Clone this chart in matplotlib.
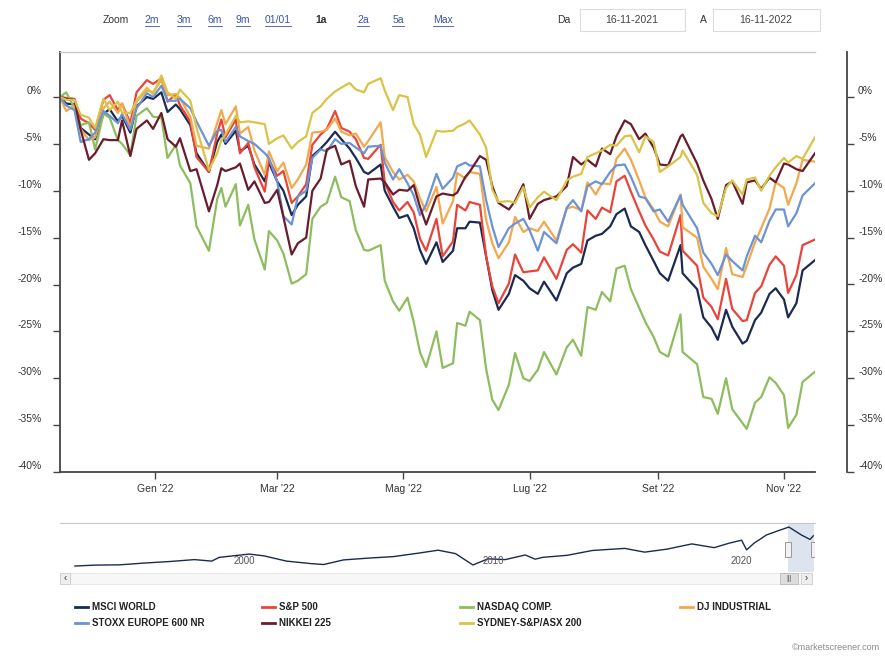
import numpy as np
import pandas as pd
import matplotlib
matplotlib.use("Agg")
import matplotlib.pyplot as plt
import matplotlib.transforms as mtransforms
from matplotlib.patches import Rectangle
from matplotlib.lines import Line2D

plt.rcParams['font.family'] = ['Liberation Sans', 'DejaVu Sans']

# ---- data (percent change since 16-11-2021) ----
dates = pd.to_datetime([
    '2021-11-16', '2021-11-19', '2021-11-23', '2021-11-26', '2021-11-30',
    '2021-12-03', '2021-12-07', '2021-12-10', '2021-12-14', '2021-12-16', '2021-12-20',
    '2021-12-23', '2021-12-28', '2021-12-31',
    '2022-01-04', '2022-01-07', '2022-01-11', '2022-01-13', '2022-01-18', '2022-01-21',
    '2022-01-27', '2022-01-31',
    '2022-02-02', '2022-02-04', '2022-02-09', '2022-02-11', '2022-02-15', '2022-02-18',
    '2022-02-23', '2022-02-25',
    '2022-03-01', '2022-03-04', '2022-03-08', '2022-03-11', '2022-03-15', '2022-03-18',
    '2022-03-22', '2022-03-25', '2022-03-29',
    '2022-04-01', '2022-04-05', '2022-04-08', '2022-04-12', '2022-04-14', '2022-04-20',
    '2022-04-22', '2022-04-26', '2022-04-29',
    '2022-05-03', '2022-05-06', '2022-05-09', '2022-05-12', '2022-05-17', '2022-05-20',
    '2022-05-25', '2022-05-27', '2022-05-31',
    '2022-06-02', '2022-06-07', '2022-06-10', '2022-06-13', '2022-06-16', '2022-06-21',
    '2022-06-24', '2022-06-28',
    '2022-07-01', '2022-07-05', '2022-07-08', '2022-07-14', '2022-07-19', '2022-07-22',
    '2022-07-26', '2022-07-29',
    '2022-08-02', '2022-08-05', '2022-08-09', '2022-08-12', '2022-08-16', '2022-08-19',
    '2022-08-23', '2022-08-26', '2022-08-30',
    '2022-09-02', '2022-09-06', '2022-09-12', '2022-09-13', '2022-09-20', '2022-09-23',
    '2022-09-27', '2022-09-30',
    '2022-10-04', '2022-10-07', '2022-10-12', '2022-10-14', '2022-10-18', '2022-10-21',
    '2022-10-25', '2022-10-28',
    '2022-11-01', '2022-11-03', '2022-11-07', '2022-11-10', '2022-11-16'])

msci_world = [0.0, -0.7, -0.8, -3.3, -4.0,
              -4.5, -1.8, -1.3, -2.6, -2.0, -3.8, -1.0, 0.0, -0.2,
              0.5, -1.6, -0.8, -1.3, -3.0, -6.0, -8.0, -4.8,
              -4.0, -5.0, -3.6, -5.8, -5.2, -7.2, -9.0, -7.0,
              -9.0, -10.0, -12.6, -11.5, -10.6, -6.3, -5.5, -4.8, -3.7,
              -4.5, -5.5, -6.5, -8.0, -8.2, -7.2, -10.0, -11.7, -12.9,
              -12.6, -14.0, -16.3, -17.8, -15.5, -17.6, -16.4, -14.0, -14.0,
              -13.3, -13.4, -17.0, -20.6, -22.7, -21.0, -19.0, -19.6,
              -20.4, -21.0, -19.7, -21.7, -18.8, -18.2, -17.8, -15.3,
              -14.8, -14.6, -13.8, -12.5, -11.9, -13.8, -14.4, -15.8, -17.5,
              -18.8, -19.6, -15.8, -18.8, -20.5, -23.5, -24.6, -25.9,
              -22.7, -24.5, -26.3, -26.0, -23.8, -23.0, -21.0, -20.4,
              -21.6, -23.5, -22.0, -18.5, -17.4]
sp500 = [0.0, -0.1, -0.2, -2.3, -2.8,
         -3.5, -0.3, 0.2, -1.4, -0.7, -2.8, 0.5, 1.8, 1.4,
         2.0, -0.5, 0.3, -0.9, -2.6, -6.4, -8.0, -3.9,
         -2.4, -4.3, -2.4, -6.0, -4.9, -7.5, -10.1, -6.7,
         -8.4, -7.9, -11.3, -10.6, -9.3, -5.1, -4.0, -3.4, -1.5,
         -3.3, -3.7, -4.5, -6.5, -6.6, -5.1, -9.1, -11.2, -12.1,
         -11.2, -12.3, -15.1, -16.4, -13.0, -17.0, -15.4, -11.5, -12.1,
         -11.2, -11.5, -17.0, -20.2, -22.0, -19.9, -16.8, -18.7,
         -18.6, -18.5, -17.1, -19.4, -16.3, -15.7, -16.6, -12.1,
         -13.0, -11.8, -12.3, -9.0, -8.4, -10.1, -12.2, -13.7, -15.2,
         -16.5, -16.9, -12.6, -16.4, -18.0, -21.4, -22.4, -23.7,
         -19.4, -22.6, -23.9, -23.8, -20.9, -20.2, -17.9, -17.0,
         -18.0, -20.9, -19.0, -15.8, -15.2]
nasdaq = [0.0, 0.5, -1.2, -3.0, -2.7,
          -5.6, -1.8, -2.2, -4.6, -5.0, -6.2, -2.0, -1.2, -2.1,
          -2.2, -6.5, -5.1, -7.3, -9.2, -13.8, -16.4, -10.9,
          -9.7, -11.7, -9.3, -13.7, -11.5, -15.2, -18.4, -14.3,
          -15.3, -16.7, -19.9, -19.6, -18.9, -13.0, -11.7, -11.3, -8.5,
          -10.7, -11.1, -14.2, -16.3, -16.4, -15.8, -19.6, -21.8, -22.8,
          -21.4, -24.0, -27.2, -28.8, -25.0, -28.9, -28.4, -24.1, -24.4,
          -22.9, -23.8, -29.0, -32.3, -33.4, -30.7, -27.3, -30.0,
          -30.3, -29.1, -27.2, -29.6, -26.7, -25.9, -27.6, -22.4,
          -22.7, -20.8, -21.8, -18.3, -18.0, -20.5, -22.5, -24.0, -25.6,
          -27.2, -27.7, -23.2, -27.2, -28.5, -32.0, -32.2, -33.8,
          -30.0, -33.3, -34.8, -35.4, -32.6, -32.0, -29.9, -30.5,
          -31.8, -35.3, -33.9, -30.4, -29.3]
dj_industrial = [0.0, -1.5, -0.9, -3.4, -4.6,
                 -4.3, -1.2, -0.5, -1.7, -0.7, -3.3, -0.5, 0.7, 0.5,
                 1.8, 0.2, 0.3, -0.1, -2.1, -5.2, -5.5, -2.8,
                 -1.4, -2.9, -1.0, -3.9, -3.2, -5.7, -8.3, -5.8,
                 -7.9, -7.0, -9.7, -8.8, -7.2, -3.8, -3.7, -3.5, -2.3,
                 -3.7, -4.1, -3.9, -5.3, -4.7, -2.7, -6.4, -8.0, -8.8,
                 -8.3, -9.0, -10.8, -12.2, -9.6, -13.5, -11.1, -8.1, -8.7,
                 -8.0, -8.2, -13.1, -15.6, -17.2, -15.5, -12.8, -14.4,
                 -14.0, -14.3, -13.3, -15.3, -11.9, -11.7, -12.1, -9.1,
                 -10.4, -9.2, -9.3, -6.6, -5.5, -6.7, -8.9, -10.7, -12.0,
                 -13.3, -13.8, -10.4, -13.9, -15.0, -18.1, -19.4, -20.5,
                 -16.1, -18.9, -19.2, -18.0, -15.5, -14.0, -11.9, -9.1,
                 -9.7, -11.5, -9.2, -6.7, -6.9]
stoxx600 = [0.0, -0.9, -1.4, -4.8, -4.5,
            -3.8, -1.5, -2.0, -2.8, -1.8, -3.5, -1.2, 0.4, 0.0,
            1.2, -0.4, -0.4, -0.2, -1.2, -2.6, -5.2, -3.6,
            -3.5, -4.8, -3.2, -4.2, -4.7, -5.0, -6.0, -6.5,
            -9.0, -12.7, -13.6, -10.6, -10.0, -6.5, -5.6, -5.8, -4.5,
            -5.0, -4.9, -5.4, -6.0, -5.3, -5.2, -7.0, -8.8, -7.7,
            -9.2, -10.5, -12.6, -11.5, -8.2, -9.8, -8.6, -7.4, -7.0,
            -7.3, -7.4, -11.0, -13.8, -16.0, -14.0, -13.5, -13.0,
            -14.2, -16.4, -14.4, -15.6, -11.8, -11.0, -12.2, -9.5,
            -9.0, -9.3, -8.0, -7.3, -7.2, -8.5, -10.6, -10.8, -12.2,
            -12.0, -13.3, -10.5, -11.5, -14.0, -16.6, -17.8, -19.0,
            -16.8, -17.5, -18.5, -17.0, -14.8, -15.5, -13.2, -12.0,
            -12.0, -13.8, -12.4, -10.5, -9.2]
nikkei225 = [0.0, -0.2, -0.3, -3.5, -6.7,
             -6.0, -4.5, -4.6, -4.6, -2.5, -6.3, -3.4, -2.5, -3.4,
             -1.7, -4.5, -5.3, -4.4, -7.9, -7.7, -12.2, -9.4,
             -7.6, -7.9, -7.5, -7.1, -9.9, -9.0, -11.3, -11.2,
             -9.9, -12.8, -16.8, -15.6, -15.0, -10.0, -8.7, -5.6, -5.2,
             -7.2, -6.8, -9.5, -11.7, -8.8, -8.7, -9.1, -10.4, -9.9,
             -10.0, -9.4, -11.7, -13.6, -10.6, -10.3, -10.5, -10.2, -8.5,
             -8.0, -6.3, -6.7, -9.5, -11.3, -12.0, -11.1, -9.3,
             -13.0, -11.4, -11.0, -10.6, -9.5, -6.4, -7.2, -6.7,
             -7.4, -5.5, -6.1, -4.2, -2.5, -2.9, -4.5, -3.9, -5.4,
             -7.2, -7.3, -4.2, -4.0, -7.1, -8.9, -10.9, -13.0,
             -9.4, -9.0, -11.4, -9.1, -8.9, -9.8, -8.6, -9.1,
             -7.1, -7.2, -7.7, -7.9, -6.0]
asx200 = [0.0, -0.3, -0.3, -1.9, -2.2,
          -3.3, -0.2, -1.4, -0.5, -1.7, -1.7, -0.4, 1.0, 0.3,
          2.3, 0.5, -0.2, 0.8, -0.4, -3.3, -7.8, -6.0,
          -4.6, -4.0, -2.0, -2.7, -2.6, -2.7, -2.9, -5.0,
          -4.4, -4.1, -5.5, -4.8, -4.2, -1.7, -1.0, -0.2, 0.6,
          1.0, 1.5, 0.8, 0.5, 1.4, 2.0, 0.7, -1.4, 0.2,
          0.0, -2.9, -4.0, -6.4, -3.6, -3.7, -3.6, -3.2, -2.8,
          -2.5, -4.0, -5.4, -9.9, -11.2, -11.1, -11.3, -9.6,
          -11.8, -10.7, -10.1, -11.0, -8.9, -8.5, -8.2, -6.4,
          -6.0, -5.7, -5.1, -5.2, -4.2, -4.1, -5.9, -4.2, -4.8,
          -8.0, -7.4, -6.4, -5.7, -8.3, -11.3, -12.4, -12.7,
          -9.7, -8.9, -10.4, -8.8, -8.6, -10.0, -8.4, -7.5,
          -6.5, -7.0, -6.3, -6.6, -4.3]

series_names = ["MSCI WORLD", "S&P 500", "NASDAQ COMP.", "DJ INDUSTRIAL",
                "STOXX EUROPE 600 NR", "NIKKEI 225", "SYDNEY-S&P/ASX 200"]
series_values = [msci_world, sp500, nasdaq, dj_industrial, stoxx600, nikkei225, asx200]
series_colors = ['#1b2a52', '#e8443a', '#8dbd5e', '#f2a84c', '#6b93d6', '#6a1c2c', '#d9c445']

y_ticks = [0, -5, -10, -15, -20, -25, -30, -35, -40]
x_tick_dates = pd.to_datetime(['2022-01-01', '2022-03-01', '2022-05-01',
                               '2022-07-01', '2022-09-01', '2022-11-01'])
x_tick_labels = ["Gen '22", "Mar '22", "Mag '22", "Lug '22", "Set '22", "Nov '22"]

# navigator (long history of the first series)
nav_years = [1993.2, 1994.0, 1995.0, 1996.0, 1997.0, 1998.0, 1998.7, 1999.0, 2000.2, 2000.8,
             2001.7, 2002.7, 2003.2, 2004.0, 2005.0, 2006.0, 2007.0, 2007.8, 2008.5, 2009.2,
             2009.8, 2010.5, 2011.3, 2011.7, 2012.0, 2013.0, 2014.0, 2015.3, 2016.1, 2017.0,
             2018.0, 2018.9, 2019.5, 2020.0, 2020.2, 2020.5, 2021.0, 2021.5, 2021.9, 2022.4,
             2022.75, 2022.88]
nav_values = [620, 680, 700, 820, 920, 1050, 950, 1200, 1420, 1300,
              950, 780, 720, 1030, 1150, 1250, 1480, 1680, 1450, 690,
              1100, 1050, 1360, 1080, 1200, 1340, 1660, 1800, 1550, 1750,
              2100, 1850, 2150, 2350, 1700, 2150, 2700, 3000, 3230, 2700,
              2400, 2640]
nav_label_years = [2000, 2010, 2020]

zoom_buttons = ["2m", "3m", "6m", "9m", "01/01", "1a", "2a", "5a", "Max"]
zoom_selected = "1a"
date_from = "16-11-2021"
date_to = "16-11-2022"

# ---- figure ----
W, H = 885, 659
fig = plt.figure(figsize=(W / 100, H / 100), dpi=100)


def box(x0, y0, x1, y1):
    return [x0 / W, 1 - y1 / H, (x1 - x0) / W, (y1 - y0) / H]


axis_col = '#444444'
text_col = '#333333'

ax = fig.add_axes(box(60, 52, 815, 472))
for vals, col in zip(series_values, series_colors):
    ax.plot(dates, vals, color=col, lw=1.6, solid_joinstyle='round')
ax.set_xlim(pd.Timestamp('2021-11-16'), pd.Timestamp('2022-11-16'))
ax.set_ylim(-40, 4.8)
ax.spines['right'].set_visible(False)
ax.spines['top'].set_color('#c8c8c8')
ax.spines['top'].set_linewidth(1.0)
for s in ['left', 'bottom']:
    ax.spines[s].set_color(axis_col)
    ax.spines[s].set_linewidth(1.3)
ax.set_yticks(y_ticks)
ax.set_yticklabels([f"{v}%" for v in y_ticks])
ax.set_xticks(x_tick_dates)
ax.set_xticklabels(x_tick_labels)
ax.tick_params(axis='y', direction='out', length=5, width=1, color=axis_col,
               labelsize=7.5, labelcolor=text_col, pad=8)
ax.tick_params(axis='x', direction='out', length=5, width=1, color=axis_col,
               labelsize=7.5, labelcolor=text_col, pad=4)
up = mtransforms.ScaledTranslation(0, 5 / 72, fig.dpi_scale_trans)
for lab in ax.get_yticklabels():
    lab.set_transform(lab.get_transform() + up)

# right-hand axis
ax2 = ax.twinx()
ax2.set_ylim(ax.get_ylim())
for s in ['left', 'top', 'bottom']:
    ax2.spines[s].set_visible(False)
ax2.spines['right'].set_position(('outward', 23))
ax2.spines['right'].set_color(axis_col)
ax2.spines['right'].set_linewidth(1.3)
ax2.set_yticks(y_ticks)
ax2.set_yticklabels([f"{v}%" for v in y_ticks])
ax2.tick_params(axis='y', direction='out', length=5, width=1, color=axis_col,
                labelsize=7.5, labelcolor=text_col, pad=3)
for lab in ax2.get_yticklabels():
    lab.set_transform(lab.get_transform() + up)

# navigator
nav = fig.add_axes(box(60, 523, 815, 572))
nav.plot(nav_years, nav_values, color=series_colors[0], lw=1.0)
nav.set_xlim(1992.6, 2022.95)
nav.set_ylim(220, 3500)
nav.set_xticks([])
nav.set_yticks([])
for s in ['left', 'right', 'bottom']:
    nav.spines[s].set_visible(False)
nav.spines['top'].set_color('#c8c8c8')
trans = mtransforms.blended_transform_factory(nav.transData, nav.transAxes)
for yr in nav_label_years:
    nav.text(yr, 0.22, str(yr), transform=trans, ha='center', va='center',
             fontsize=7, color='#555555')
nav.axvspan(2021.88, 2022.9, color='#c9d2e3', alpha=0.6, lw=0)
for edge in [2021.88, 2022.9]:
    nav.add_patch(Rectangle((edge - 0.12, 0.3), 0.24, 0.32, transform=trans,
                            facecolor='#f2f2f2', edgecolor='#999999', lw=0.7, zorder=5))

# overlay for toolbar, scrollbar, legend
ov = fig.add_axes([0, 0, 1, 1], zorder=-1)
ov.set_xlim(0, W)
ov.set_ylim(H, 0)
ov.axis('off')

# toolbar
ov.text(103, 20, "Zoom", fontsize=7.5, color=text_col, va='center', ha='left')
btn_x = [152, 184, 215, 243, 278, 321, 363, 398, 443]
btn_texts = []
for bx, lab in zip(btn_x, zoom_buttons):
    sel = lab == zoom_selected
    t = ov.text(bx, 20, lab, fontsize=7.5, ha='center', va='center',
                color=text_col if sel else '#3a55a4',
                fontweight='bold' if sel else 'normal')
    if not sel:
        btn_texts.append(t)
ov.text(557, 20, "Da", fontsize=7.5, color=text_col, va='center', ha='left')
ov.text(700, 20, "A", fontsize=7.5, color=text_col, va='center', ha='left')
ov.add_patch(Rectangle((580, 9), 105, 22, facecolor='white', edgecolor='#dddddd', lw=0.8))
ov.add_patch(Rectangle((713, 9), 107, 22, facecolor='white', edgecolor='#dddddd', lw=0.8))
ov.text(632, 20, date_from, fontsize=7.5, color='#444444', ha='center', va='center')
ov.text(766, 20, date_to, fontsize=7.5, color='#444444', ha='center', va='center')

# scrollbar
ov.add_patch(Rectangle((60, 573), 752, 11, facecolor='#f7f7f7', edgecolor='#e6e6e6', lw=0.6))
ov.add_patch(Rectangle((60, 573), 10, 11, facecolor='#eeeeee', edgecolor='#cccccc', lw=0.6))
ov.add_patch(Rectangle((801, 573), 11, 11, facecolor='#eeeeee', edgecolor='#cccccc', lw=0.6))
ov.add_patch(Rectangle((780, 573), 18, 11, facecolor='#dddddd', edgecolor='#bbbbbb', lw=0.6))
ov.text(65, 578.5, "‹", fontsize=7, ha='center', va='center', color='#333333')
ov.text(806.5, 578.5, "›", fontsize=7, ha='center', va='center', color='#333333')
ov.text(789, 578.5, "|||", fontsize=5, ha='center', va='center', color='#666666')

# legend
leg_pos = [(75, 607), (262, 607), (460, 607), (680, 607),
           (75, 623), (262, 623), (460, 623)]
for (lx, ly), name, col in zip(leg_pos, series_names, series_colors):
    ov.add_line(Line2D([lx, lx + 13], [ly, ly], color=col, lw=2))
    ov.text(lx + 17, ly, name, fontsize=7, fontweight='bold', color='#222222',
            ha='left', va='center')

ov.text(880, 648, "©marketscreener.com", fontsize=6.5, color='#8a8a8a',
        ha='right', va='center')

# underline the zoom links
fig.canvas.draw()
inv = ov.transData.inverted()
for t in btn_texts:
    bb = t.get_window_extent()
    (x0, y0), (x1, y1) = inv.transform([(bb.x0, bb.y0), (bb.x1, bb.y1)])
    ov.add_line(Line2D([x0, x1], [y0 + 0.5, y0 + 0.5], color='#3a55a4', lw=0.6))

fig.savefig("out.png", dpi=100)
